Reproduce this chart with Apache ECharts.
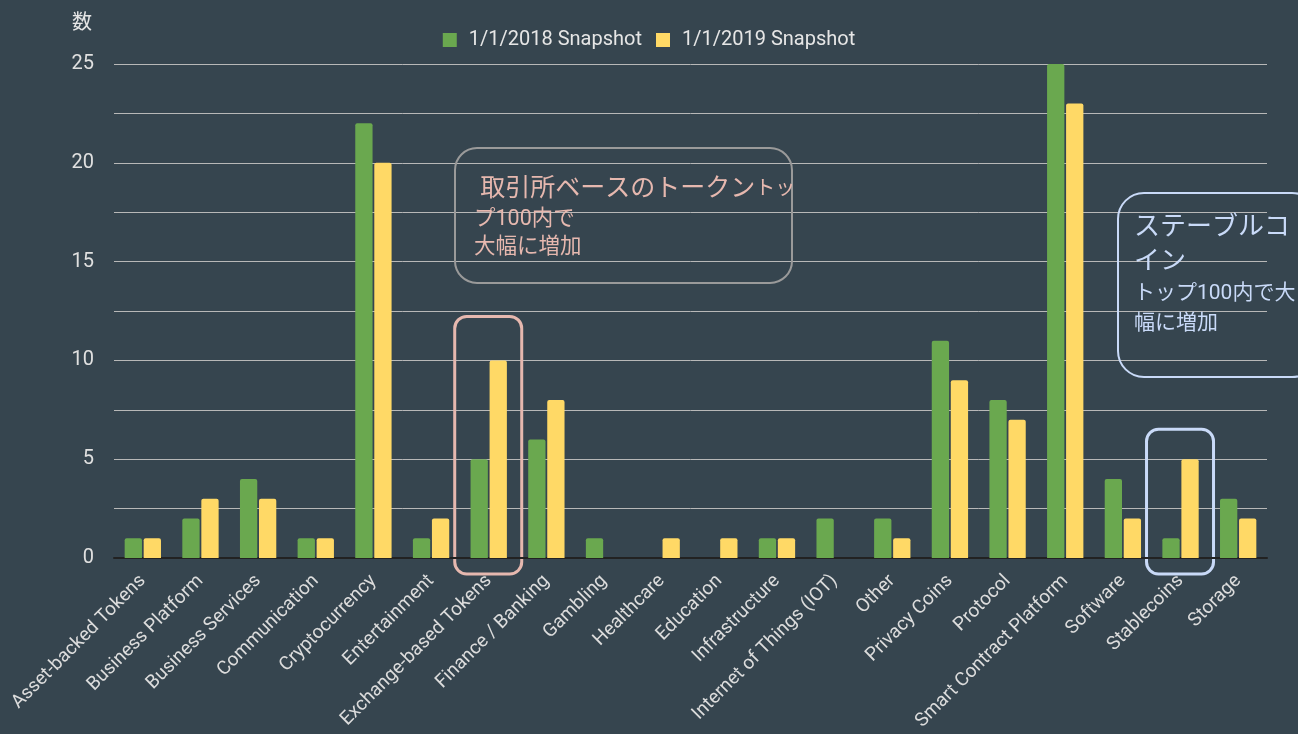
<!DOCTYPE html>
<html>
<head>
<meta charset="utf-8">
<script src="https://cdn.jsdelivr.net/npm/echarts@6/dist/echarts.min.js"></script>
<style>
  html, body { margin: 0; padding: 0; background: #36454f; }
  #main { width: 1298px; height: 734px; }
</style>
</head>
<body>
<div id="main"></div>
<script>
var categories = ['Asset-backed Tokens', 'Business Platform', 'Business Services', 'Communication',
    'Cryptocurrency', 'Entertainment', 'Exchange-based Tokens', 'Finance / Banking', 'Gambling',
    'Healthcare', 'Education', 'Infrastructure', 'Internet of Things (IOT)', 'Other', 'Privacy Coins',
    'Protocol', 'Smart Contract Platform', 'Software', 'Stablecoins', 'Storage'];
var snap2018 = [1, 2, 4, 1, 22, 1, 5, 6, 1, 0, 0, 1, 2, 2, 11, 8, 25, 4, 1, 3];
var snap2019 = [1, 3, 3, 1, 20, 2, 10, 8, 0, 1, 1, 1, 0, 1, 9, 7, 23, 2, 5, 2];
var seriesNames = ['1/1/2018 Snapshot', '1/1/2019 Snapshot'];
var yTicks = [0, 5, 10, 15, 20, 25];

var FONT = 'Roboto, "Noto Sans CJK JP", sans-serif';
var chart = echarts.init(document.getElementById('main'));

var option = {
    backgroundColor: '#36454f',
    textStyle: { fontFamily: FONT },
    legend: {
        top: 25,
        left: 'center',
        itemWidth: 14,
        itemHeight: 14,
        itemGap: 14,
        icon: 'rect',
        textStyle: { color: '#e6e6e6', fontSize: 20, fontFamily: FONT, padding: [0, 0, 0, 7] },
        data: seriesNames
    },
    grid: { left: 114, right: 31, top: 64, bottom: 176, containLabel: false },
    xAxis: {
        type: 'category',
        data: categories,
        axisLine: { show: true, lineStyle: { color: '#222', width: 2 } },
        axisTick: { show: false },
        axisLabel: {
            rotate: 45,
            interval: 0,
            color: '#dcdcdc',
            fontSize: 19,
            fontFamily: FONT,
            margin: 20
        }
    },
    yAxis: {
        type: 'value',
        min: 0,
        max: 25,
        interval: 2.5,
        name: '数',
        nameLocation: 'end',
        nameGap: 30,
        nameTextStyle: { color: '#e6e6e6', fontSize: 20, align: 'right', padding: [0, 22, 0, 0] },
        axisLine: { show: false },
        axisTick: { show: false },
        axisLabel: {
            color: '#e0e0e0',
            fontSize: 20,
            margin: 20,
            formatter: function (v) {
                return yTicks.indexOf(v) >= 0 ? String(v) : '';
            }
        },
        splitLine: { lineStyle: { color: '#b8b8b8', width: 1 } }
    },
    series: [
        {
            name: seriesNames[0],
            type: 'bar',
            data: snap2018,
            barGap: '10%',
            barCategoryGap: '37%',
            itemStyle: { color: '#6aa84f', borderRadius: [2, 2, 0, 0] }
        },
        {
            name: seriesNames[1],
            type: 'bar',
            data: snap2019,
            itemStyle: { color: '#ffd966', borderRadius: [2, 2, 0, 0] }
        }
    ]
};
chart.setOption(option);

// highlight frames around a category, placed from the axis scale
function highlightBox(cat, topVal, pad, color) {
    var c = chart.convertToPixel({ seriesIndex: 0 }, [cat, topVal]);
    var base = chart.convertToPixel({ seriesIndex: 0 }, [cat, 0]);
    return {
        type: 'rect',
        shape: { x: c[0] - 34, y: c[1] - pad, width: 67, height: (base[1] - c[1]) + pad + 16, r: 12 },
        style: { fill: 'none', stroke: color, lineWidth: 3 }
    };
}

chart.setOption({
    graphic: [
        highlightBox('Exchange-based Tokens', 10, 44, '#e6b8af'),
        highlightBox('Stablecoins', 5, 30, '#c9daf8'),
        {
            type: 'rect',
            shape: { x: 455, y: 148, width: 337, height: 135, r: 22 },
            style: { fill: 'none', stroke: '#9a9a9a', lineWidth: 2 }
        },
        {
            type: 'text',
            left: 474,
            top: 177,
            style: {
                text: '{a| 取引所ベースのトークン}{c|トッ}\n{b|プ100内で}\n{b|大幅に増加}',
                fill: '#e6b8af',
                rich: {
                    a: { fontSize: 25, fontFamily: FONT, fill: '#e6b8af', lineHeight: 32 },
                    c: { fontSize: 20, fontFamily: FONT, fill: '#e6b8af', lineHeight: 32 },
                    b: { fontSize: 21.5, fontFamily: FONT, fill: '#e6b8af', lineHeight: 28 }
                }
            }
        },
        {
            type: 'rect',
            shape: { x: 1118, y: 193, width: 200, height: 184, r: 26 },
            style: { fill: 'none', stroke: '#c9daf8', lineWidth: 2 }
        },
        {
            type: 'text',
            left: 1134,
            top: 215,
            style: {
                text: '{a|ステーブルコ}\n{a|イン}\n{b|トップ100内で大}\n{b|幅に増加}',
                fill: '#c9daf8',
                rich: {
                    a: { fontSize: 26, fontFamily: FONT, fill: '#c9daf8', lineHeight: 34 },
                    b: { fontSize: 21, fontFamily: FONT, fill: '#c9daf8', lineHeight: 30 }
                }
            }
        }
    ]
});
</script>
</body>
</html>
